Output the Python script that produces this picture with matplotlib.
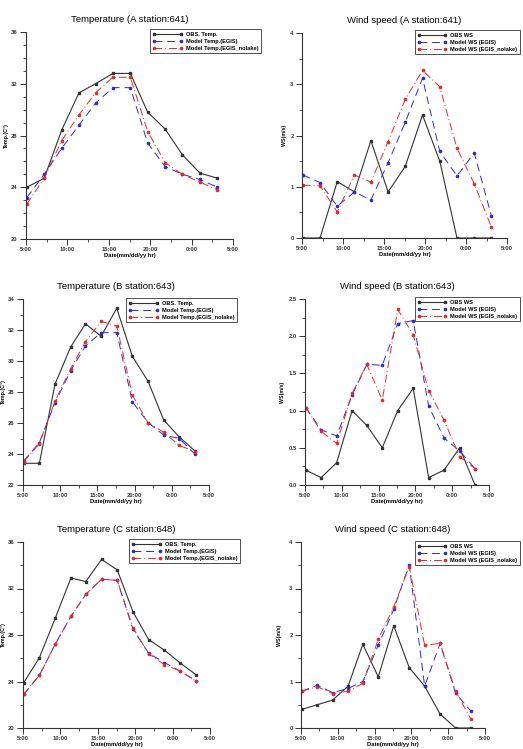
import numpy as np
import matplotlib
matplotlib.use('Agg')
import matplotlib.pyplot as plt
from matplotlib.ticker import MultipleLocator

plt.rcParams['font.family'] = ['Liberation Sans', 'DejaVu Sans']

# hours after 5:00 for the 12 samples
hours = [0.1, 2.2, 4.3, 6.4, 8.4, 10.5, 12.6, 14.7, 16.8, 18.9, 21.0, 23.1]
xticks = [0, 5, 10, 15, 20, 25]
xlabels = ['5:00', '10:00', '15:00', '20:00', '0:00', '5:00']

# station A (641)
tA_obs = [24.0, 24.7, 28.4, 31.3, 32.0, 32.8, 32.8, 29.8, 28.5, 26.5, 25.1, 24.7]
tA_egis = [23.2, 25.0, 27.0, 28.8, 30.5, 31.7, 31.7, 27.4, 25.6, 25.0, 24.6, 24.0]
tA_nolake = [22.7, 24.7, 27.6, 29.6, 31.3, 32.5, 32.5, 28.3, 25.9, 25.0, 24.4, 23.8]
wA_obs = [0.0, 0.0, 1.1, 0.9, 1.9, 0.9, 1.4, 2.4, 1.5, 0.0, 0.0, 0.0]
wA_egis = [1.23, 1.08, 0.62, 0.9, 0.74, 1.47, 2.26, 3.12, 1.69, 1.21, 1.66, 0.43]
wA_nolake = [1.03, 1.02, 0.51, 1.23, 1.09, 1.88, 2.71, 3.27, 2.95, 1.75, 1.06, 0.21]

# station B (643)
tB_obs = [23.4, 23.4, 28.5, 30.9, 32.4, 31.6, 33.4, 30.3, 28.7, 26.2, 25.1, 24.2]
tB_egis = [23.55, 24.74, 27.3, 29.37, 30.97, 31.83, 31.83, 27.37, 26.03, 25.23, 25.0, 24.0]
tB_nolake = [23.5, 24.67, 27.4, 29.5, 31.25, 32.56, 32.26, 27.8, 26.03, 25.4, 24.56, 24.15]
wB_obs = [0.2, 0.1, 0.3, 1.0, 0.8, 0.5, 1.0, 1.3, 0.1, 0.2, 0.5, 0.0]
wB_egis = [1.04, 0.74, 0.66, 1.21, 1.62, 1.61, 2.17, 2.21, 1.06, 0.63, 0.46, 0.22]
wB_nolake = [1.04, 0.72, 0.56, 1.23, 1.62, 1.14, 2.36, 2.02, 1.27, 0.87, 0.38, 0.22]

# station C (648)
tC_obs = [23.9, 26.06, 29.43, 32.9, 32.6, 34.5, 33.6, 30.0, 27.6, 26.7, 25.6, 24.6]
tC_egis = [22.9, 24.54, 27.2, 29.6, 31.5, 32.8, 32.7, 28.5, 26.43, 25.63, 24.9, 24.06]
tC_nolake = [22.9, 24.54, 27.2, 29.6, 31.5, 32.8, 32.7, 28.63, 26.37, 25.46, 24.9, 24.06]
wC_obs = [0.4, 0.5, 0.6, 0.9, 1.8, 1.1, 2.2, 1.3, 0.9, 0.3, 0.0, 0.0]
wC_egis = [0.79, 0.92, 0.76, 0.85, 1.0, 1.78, 2.55, 3.51, 0.9, 1.82, 0.75, 0.36]
wC_nolake = [0.79, 0.89, 0.74, 0.79, 0.96, 1.91, 2.6, 3.47, 1.78, 1.82, 0.79, 0.19]

W, H = 523, 749
fig = plt.figure(figsize=(W / 100, H / 100), dpi=100)


def px_axes(l, t, r, b):
    return fig.add_axes([l / W, 1 - b / H, (r - l) / W, (b - t) / H])


def panel(box, leg_box, label_x, title, obs, egis, nolake, ylim, major, minor, ylabel, names):
    ax = px_axes(*box)
    ax.plot(hours, obs, color='#333333', lw=0.8, marker='s', ms=1.6,
            label=names[0])
    ax.plot(hours, egis, color='#2a2ad8', lw=0.7, dashes=(8, 5), marker='o',
            ms=1.6, label=names[1])
    ax.plot(hours, nolake, color='#e82828', lw=0.7, dashes=(8, 3, 1, 3),
            marker='o', ms=1.6, label=names[2])
    ax.set_xlim(0, 25)
    ax.set_ylim(*ylim)
    ax.set_xticks(xticks)
    ax.set_xticklabels(xlabels)
    ax.xaxis.set_minor_locator(MultipleLocator(2.5))
    ax.yaxis.set_major_locator(MultipleLocator(major))
    ax.yaxis.set_minor_locator(MultipleLocator(minor))
    for s in ['top', 'right']:
        ax.spines[s].set_visible(False)
    for s in ['left', 'bottom']:
        ax.spines[s].set_linewidth(0.8)
        ax.spines[s].set_color('#333333')
    ax.tick_params(which='major', length=4, width=0.7, labelsize=4.2,
                   pad=2, colors='#333333')
    ax.tick_params(which='minor', length=2.5, width=0.6, colors='#333333')
    for lab in ax.get_xticklabels() + ax.get_yticklabels():
        lab.set_fontweight('bold')
    ax.set_title(title, fontsize=6.8, pad=7)
    ax.set_xlabel('Date(mm/dd/yy hr)', fontsize=4.2, fontweight='bold', labelpad=0.5)
    ax.set_ylabel(ylabel, fontsize=3.8, fontweight='bold')
    ax.yaxis.set_label_coords((label_x - box[0]) / (box[2] - box[0]), 0.5)
    l, t, r, b = leg_box
    leg = fig.legend(handles=ax.get_lines(), loc='upper right',
                     bbox_to_anchor=(r / W, 1 - t / H), fontsize=4.1,
                     frameon=True, fancybox=False, numpoints=2,
                     handlelength=5.2, borderpad=0.45, labelspacing=0.35,
                     handletextpad=0.6, borderaxespad=0)
    leg.get_frame().set_edgecolor('#222222')
    leg.get_frame().set_linewidth(0.7)
    for txt in leg.get_texts():
        txt.set_fontweight('bold')
    return ax


temp_names = ['OBS. Temp.', 'Model Temp.(EGIS)', 'Model Temp.(EGIS_nolake)']
ws_names = ['OBS WS', 'Model WS (EGIS)', 'Model WS (EGIS_nolake)']

panel((26, 32, 233, 239), (147, 29, 261, 62), 9, 'Temperature (A station:641)',
      tA_obs, tA_egis, tA_nolake, (20, 36), 4, 1, 'Temp.(C°)', temp_names)
panel((302, 33, 507, 238), (408, 30, 520, 62), 287, 'Wind speed (A station:641)',
      wA_obs, wA_egis, wA_nolake, (0, 4), 1, 0.5, 'WS(m/s)', ws_names)
panel((23, 299, 209, 485), (133, 298, 237, 324), 6, 'Temperature (B station:643)',
      tB_obs, tB_egis, tB_nolake, (22, 34), 2, 1, 'Temp.(C°)', temp_names)
panel((305, 299, 489, 485), (419, 297, 520, 324), 285, 'Wind speed (B station:643)',
      wB_obs, wB_egis, wB_nolake, (0, 2.5), 0.5, 0.25, 'WS(m/s)', ws_names)
panel((23, 542, 210, 728), (133, 539, 240, 566), 6, 'Temperature (C station:648)',
      tC_obs, tC_egis, tC_nolake, (20, 36), 4, 2, 'Temp.(C°)', temp_names)
panel((301, 542, 485, 728), (414, 541, 520, 578), 282, 'Wind speed (C station:648)',
      wC_obs, wC_egis, wC_nolake, (0, 4), 1, 0.5, 'WS(m/s)', ws_names)

fig.savefig('out.png', dpi=100)
